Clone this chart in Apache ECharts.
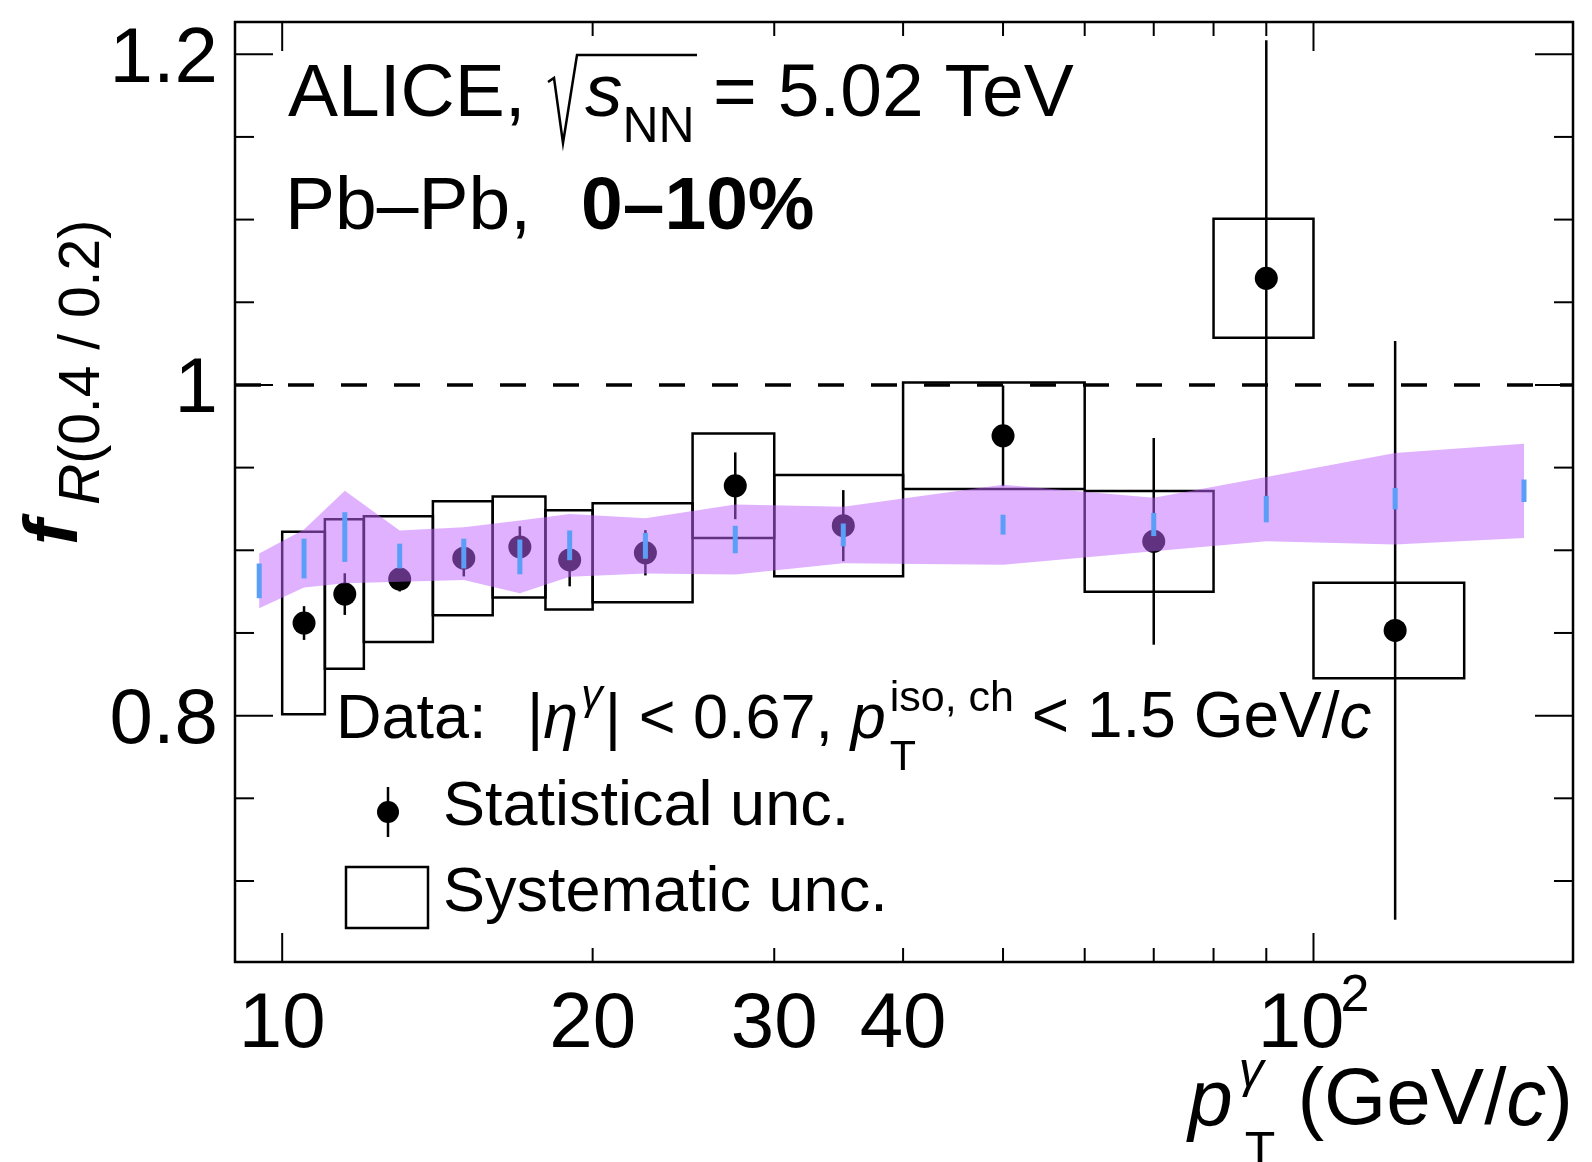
<!DOCTYPE html>
<html>
<head>
<meta charset="utf-8">
<script src="https://cdn.jsdelivr.net/npm/echarts@6/dist/echarts.min.js"></script>
<style>
  html, body { margin: 0; padding: 0; background: #fff; }
  #chart { width: 1592px; height: 1162px; }
</style>
</head>
<body>
<div id="chart"></div>
<script>
// ---- measured ratio f_R(0.4/0.2), Pb-Pb 0-10% ----
const binLow   = [10, 11, 12, 14, 16, 18, 20, 25, 30, 40, 60, 80, 100];
const binHigh  = [11, 12, 14, 16, 18, 20, 25, 30, 40, 60, 80, 100, 140];
const dataX    = [10.5, 11.5, 13, 15, 17, 19, 22.5, 27.5, 35, 50, 70, 90, 120];
const dataY    = [0.856, 0.8735, 0.8826, 0.8952, 0.902, 0.8942, 0.8985, 0.939, 0.9149, 0.9692, 0.9054, 1.0645, 0.8515];
const dataStat = [0.0102, 0.0126, 0.0075, 0.011, 0.0125, 0.016, 0.0137, 0.0202, 0.0215, 0.0305, 0.0625, 0.144, 0.175];
const dataSys  = [0.0552, 0.0452, 0.038, 0.0345, 0.0305, 0.030, 0.030, 0.0316, 0.0306, 0.0322, 0.0305, 0.036, 0.0289];

// ---- model band (centre, stat, sys) ----
const modelX    = [9.5, 10.5, 11.5, 13, 15, 17, 19, 22.5, 27.5, 35, 50, 70, 90, 120, 160];
const modelY    = [0.8815, 0.895, 0.908, 0.8965, 0.898, 0.896, 0.903, 0.9027, 0.9065, 0.9093, 0.9155, 0.9156, 0.9249, 0.9312, 0.936];
const modelStat = [0.0105, 0.012, 0.015, 0.0075, 0.009, 0.0105, 0.009, 0.0078, 0.0083, 0.0069, 0.006, 0.007, 0.008, 0.0065, 0.0068];
const modelSys  = [0.0165, 0.0175, 0.028, 0.0155, 0.016, 0.022, 0.019, 0.0167, 0.0212, 0.0171, 0.0242, 0.0162, 0.0194, 0.0277, 0.0285];

// ---- axes ----
const xRange = [9, 178.5];
const yRange = [0.651, 1.2195];
const xMajorTicks = [10, 100];
const xMinorTicks = [20, 30, 40, 50, 60, 70, 80, 90];
const xLabelVals  = [10, 20, 30, 40];
const xLabelTexts = ['10', '20', '30', '40'];
const xPowLabelVals = [100];
const xPowLabelBase = ['10'];
const xPowLabelExp  = ['2'];
const yMajorTicks = [0.8, 1.0, 1.2];
const yMinorTicks = [0.7, 0.75, 0.85, 0.9, 0.95, 1.05, 1.1, 1.15];
const yLabelVals  = [0.8, 1.0, 1.2];
const yLabelTexts = ['0.8', '1', '1.2'];
const refLine = 1.0;

const FONT = '"Liberation Sans", Arial, Helvetica, sans-serif';
const MID = 0.3465; // canvas "middle" baseline sits this many em above the alphabetic baseline

const mctx = document.createElement('canvas').getContext('2d');
function fontStr(p) {
  return (p.italic ? 'italic ' : '') + (p.bold ? 'bold ' : '') + p.size + 'px ' + FONT;
}
function measure(p) { mctx.font = fontStr(p); return mctx.measureText(p.t).width; }

// Lays text pieces out on one baseline; "stack" pieces share x with the next piece.
function runText(x0, base, pieces) {
  const els = [];
  let x = x0, stackW = 0;
  for (const p of pieces) {
    if (p.x !== undefined) x = p.x;
    if (p.gap) x += p.gap;
    const w = measure(p);
    els.push({
      type: 'text', silent: true, x: x, y: base + (p.dy || 0) - MID * p.size,
      style: { text: p.t, font: fontStr(p), fill: '#000', align: 'left', verticalAlign: 'middle' }
    });
    if (p.stack) { stackW = Math.max(stackW, w); continue; }
    x += Math.max(w, stackW);
    stackW = 0;
  }
  return els;
}
function runWidth(pieces) {
  let x = 0, stackW = 0;
  for (const p of pieces) {
    if (p.gap) x += p.gap;
    const w = measure(p);
    if (p.stack) { stackW = Math.max(stackW, w); continue; }
    x += Math.max(w, stackW);
    stackW = 0;
  }
  return x;
}

const chart = echarts.init(document.getElementById('chart'), null, { renderer: 'canvas' });

const LW = 2.5;

function tickSeries(values, isX, len) {
  return {
    type: 'custom', coordinateSystem: 'cartesian2d', silent: true, z: 6,
    encode: { x: 0, y: 1 },
    data: values.map(v => isX ? [v, yRange[0]] : [xRange[0], v]),
    renderItem(params, api) {
      const cs = params.coordSys;
      const p = api.coord([api.value(0), api.value(1)]);
      const st = { stroke: '#000', lineWidth: 2 };
      if (isX) {
        const top = cs.y, bot = cs.y + cs.height;
        return { type: 'group', children: [
          { type: 'line', shape: { x1: p[0], y1: bot, x2: p[0], y2: bot - len }, style: st },
          { type: 'line', shape: { x1: p[0], y1: top, x2: p[0], y2: top + len }, style: st }
        ]};
      }
      const l = cs.x, r = cs.x + cs.width;
      return { type: 'group', children: [
        { type: 'line', shape: { x1: l, y1: p[1], x2: l + len, y2: p[1] }, style: st },
        { type: 'line', shape: { x1: r, y1: p[1], x2: r - len, y2: p[1] }, style: st }
      ]};
    }
  };
}

const LABEL_SIZE = 78;

const series = [
  // systematic boxes (with the unity reference line)
  {
    type: 'custom', coordinateSystem: 'cartesian2d', silent: true, z: 2,
    encode: { x: [0, 1], y: 2 },
    data: binLow.map((lo, i) => [lo, binHigh[i], dataY[i], dataSys[i]]),
    renderItem(params, api) {
      const a = api.coord([api.value(0), api.value(2) + api.value(3)]);
      const b = api.coord([api.value(1), api.value(2) - api.value(3)]);
      return { type: 'rect', shape: { x: a[0], y: a[1], width: b[0] - a[0], height: b[1] - a[1] },
               style: { fill: 'none', stroke: '#000', lineWidth: LW } };
    },
    markLine: {
      silent: true, symbol: 'none', animation: false,
      label: { show: false },
      lineStyle: { color: '#000', width: 3.5, type: [26, 27], opacity: 1 },
      data: [{ yAxis: refLine }]
    }
  },
  // statistical error bars
  {
    type: 'custom', coordinateSystem: 'cartesian2d', silent: true, z: 2,
    encode: { x: 0, y: 1 },
    data: dataX.map((x, i) => [x, dataY[i], dataStat[i]]),
    renderItem(params, api) {
      const a = api.coord([api.value(0), api.value(1) + api.value(2)]);
      const b = api.coord([api.value(0), api.value(1) - api.value(2)]);
      return { type: 'line', shape: { x1: a[0], y1: a[1], x2: b[0], y2: b[1] },
               style: { stroke: '#000', lineWidth: LW } };
    }
  },
  // data points
  {
    type: 'scatter', silent: true, z: 2, symbol: 'circle', symbolSize: 23,
    itemStyle: { color: '#000', opacity: 1 },
    data: dataX.map((x, i) => [x, dataY[i]])
  },
  // model systematic band, drawn over the data
  {
    type: 'custom', coordinateSystem: 'cartesian2d', silent: true, z: 3,
    encode: { x: 0, y: [1, 2] },
    data: modelX.map((x, i) => [x, modelY[i] - modelSys[i], modelY[i] + modelSys[i]]),
    renderItem(params, api) {
      if (params.dataIndex !== 0) return null;
      const up = modelX.map((x, i) => api.coord([x, modelY[i] + modelSys[i]]));
      const lo = modelX.map((x, i) => api.coord([x, modelY[i] - modelSys[i]])).reverse();
      return { type: 'polygon', shape: { points: up.concat(lo) },
               style: { fill: 'rgba(194,100,255,0.5)' } };
    }
  },
  // model statistical bars
  {
    type: 'custom', coordinateSystem: 'cartesian2d', silent: true, z: 4,
    encode: { x: 0, y: 1 },
    data: modelX.map((x, i) => [x, modelY[i], modelStat[i]]),
    renderItem(params, api) {
      const a = api.coord([api.value(0), api.value(1) + api.value(2)]);
      const b = api.coord([api.value(0), api.value(1) - api.value(2)]);
      return { type: 'line', shape: { x1: a[0], y1: a[1], x2: b[0], y2: b[1] },
               style: { stroke: '#5b9ef7', lineWidth: 5 } };
    }
  },
  tickSeries(xMajorTicks, true, 29),
  tickSeries(xMinorTicks, true, 14),
  tickSeries(yMajorTicks, false, 38),
  tickSeries(yMinorTicks, false, 19),
  // x tick labels
  {
    type: 'custom', coordinateSystem: 'cartesian2d', silent: true, z: 6,
    encode: { x: 0, y: 1 },
    data: xLabelVals.map(v => [v, yRange[0]]),
    renderItem(params, api) {
      const p = api.coord([api.value(0), api.value(1)]);
      return { type: 'text', x: p[0], y: p[1] + 63,
               style: { text: xLabelTexts[params.dataIndex], font: LABEL_SIZE + 'px ' + FONT,
                        fill: '#000', align: 'center', verticalAlign: 'middle' } };
    }
  },
  {
    type: 'custom', coordinateSystem: 'cartesian2d', silent: true, z: 6,
    encode: { x: 0, y: 1 },
    data: xPowLabelVals.map(v => [v, yRange[0]]),
    renderItem(params, api) {
      const p = api.coord([api.value(0), api.value(1)]);
      const i = params.dataIndex;
      return { type: 'group', children: [
        { type: 'text', x: p[0] + 31, y: p[1] + 63,
          style: { text: xPowLabelBase[i], font: LABEL_SIZE + 'px ' + FONT, fill: '#000', align: 'right', verticalAlign: 'middle' } },
        { type: 'text', x: p[0] + 27, y: p[1] + 35,
          style: { text: xPowLabelExp[i], font: '52px ' + FONT, fill: '#000', align: 'left', verticalAlign: 'middle' } }
      ]};
    }
  },
  // y tick labels
  {
    type: 'custom', coordinateSystem: 'cartesian2d', silent: true, z: 6,
    encode: { x: 0, y: 1 },
    data: yLabelVals.map(v => [xRange[0], v]),
    renderItem(params, api) {
      const p = api.coord([api.value(0), api.value(1)]);
      return { type: 'text', x: p[0] - 17, y: p[1] + 6,
               style: { text: yLabelTexts[params.dataIndex], font: LABEL_SIZE + 'px ' + FONT,
                        fill: '#000', align: 'right', verticalAlign: 'middle' } };
    }
  }
];

// ---- annotations ----
const graphics = [];
// header line 1
graphics.push(...runText(288, 121, [{ t: 'ALICE,', size: 75 }]));
graphics.push({ type: 'polyline', silent: true,
  shape: { points: [[548, 82], [554, 78], [563, 143], [577, 55], [697, 55]] },
  style: { stroke: '#000', lineWidth: 2.5, fill: 'none' } });
graphics.push(...runText(585, 121, [
  { t: 's', size: 75, italic: true },
  { t: 'NN', size: 50, dy: 25 }
]));
graphics.push(...runText(713, 121, [{ t: '= 5.02 TeV', size: 75 }]));
// header line 2
graphics.push(...runText(285, 234, [{ t: 'Pb–Pb,', size: 75 }]));
graphics.push(...runText(581, 234, [{ t: '0–10%', size: 75, bold: true }]));

// legend
graphics.push(...runText(336, 742, [
  { t: 'Data:', size: 63 },
  { t: '|', size: 63, x: 527 },
  { t: 'η', size: 63, italic: true },
  { t: 'γ', size: 43, italic: true, dy: -30, gap: 3 },
  { t: '| < 0.67, ', size: 63, gap: 2 },
  { t: 'p', size: 63, italic: true },
  { t: 'iso, ch', size: 43, dy: -28, gap: 4, stack: true },
  { t: 'T', size: 43, dy: 31 },
  { t: ' < 1.5 GeV/', size: 64 },
  { t: 'c', size: 64, italic: true }
]));
graphics.push({ type: 'line', silent: true, shape: { x1: 388, y1: 787, x2: 388, y2: 837 },
  style: { stroke: '#000', lineWidth: 2.5 } });
graphics.push({ type: 'circle', silent: true, shape: { cx: 388, cy: 812, r: 11 }, style: { fill: '#000' } });
graphics.push(...runText(443, 829, [{ t: 'Statistical unc.', size: 63 }]));
graphics.push({ type: 'rect', silent: true, shape: { x: 346, y: 867, width: 82, height: 61 },
  style: { fill: 'none', stroke: '#000', lineWidth: 2.5 } });
graphics.push(...runText(443, 915, [{ t: 'Systematic unc.', size: 63 }]));

// x axis title, right-aligned to the frame
const xTitle = [
  { t: 'p', size: 80, italic: true },
  { t: 'γ', size: 50, italic: true, dy: -40, gap: 6, stack: true },
  { t: 'T', size: 50, dy: 41, gap: 6 },
  { t: ' (GeV/', size: 80 },
  { t: 'c', size: 80, italic: true },
  { t: ')', size: 80 }
];
graphics.push(...runText(1573 - runWidth(xTitle), 1130, xTitle));

// y axis title (rotated)
graphics.push({
  type: 'group', x: 82, y: 545, rotation: Math.PI / 2, silent: true,
  children: runText(0, 0, [
    { t: 'f', size: 76, bold: true, italic: true },
    { t: 'R', size: 57, italic: true, dy: 21, x: 40 },
    { t: '(0.4 / 0.2)', size: 57, dy: 21 }
  ])
});

chart.setOption({
  animation: false,
  backgroundColor: '#fff',
  grid: { left: 235, top: 22, width: 1338, height: 940, show: true,
          borderColor: '#000', borderWidth: 2.5, backgroundColor: 'transparent' },
  xAxis: { type: 'log', logBase: 10, min: xRange[0], max: xRange[1],
           axisLine: { show: false }, axisTick: { show: false }, axisLabel: { show: false },
           splitLine: { show: false }, minorTick: { show: false } },
  yAxis: { type: 'value', min: yRange[0], max: yRange[1],
           axisLine: { show: false }, axisTick: { show: false }, axisLabel: { show: false },
           splitLine: { show: false } },
  series: series,
  graphic: { elements: graphics }
});
</script>
</body>
</html>
